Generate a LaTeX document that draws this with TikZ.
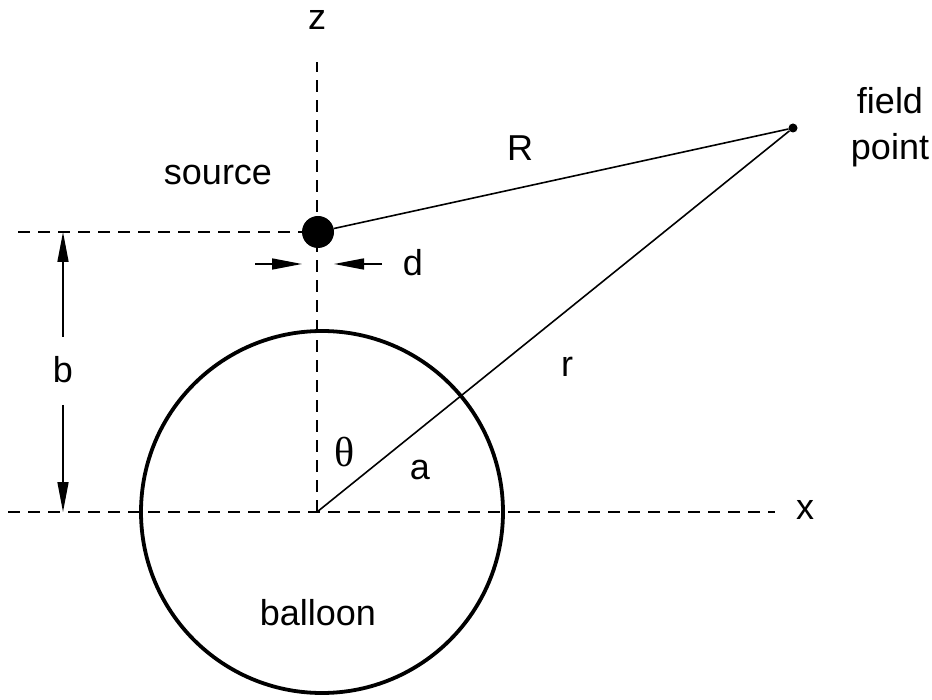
\documentclass[tikz,border=0pt]{standalone}
\usepackage{fontspec}
\setmainfont{Liberation Sans}
\newfontfamily\thetafont{Liberation Serif}
\usetikzlibrary{arrows.meta}
\begin{document}
\begin{tikzpicture}[x=1pt,y=-1pt,
  axis/.style={line width=1.6pt,dash pattern=on 12pt off 8pt},
  thinline/.style={line width=1.6pt},
  lbl/.style={font=\fontsize{36}{40}\selectfont,inner sep=0pt},
  tip/.style={-{Triangle[length=30pt,width=11pt]}},
]
\useasboundingbox (0,0) rectangle (932,700);
% axes
\coordinate (O) at (317,512);
\coordinate (zt) at (317,62);
\coordinate (xl) at (8,512);
\coordinate (xr) at (775,512);
\coordinate (ul) at (18,232);
\draw[axis] (O) -- (zt);
\draw[axis] (xl) -- (xr);
\draw[axis] (ul) -- (302,232);
% balloon
\node[circle,draw,line width=3.8pt,minimum size=362pt,inner sep=0pt] (balloon) at (322,512) {};
% source and field point
\node[circle,fill,inner sep=0pt,minimum size=32pt] (src) at (318,232) {};
\node[circle,fill,inner sep=0pt,minimum size=9pt] (fp) at (793,128) {};
\draw[thinline] (src) -- (fp);
\draw[thinline] (O) -- (fp);
% d arrows
\coordinate (dl0) at (255,264); \coordinate (dl1) at (302,264);
\coordinate (dr0) at (382,264); \coordinate (dr1) at (334,264);
\draw[thinline,tip] (dl0) -- (dl1);
\draw[thinline,tip] (dr0) -- (dr1);
% b arrow
\node[lbl] (b) at (63,370) {b};
\coordinate (bt) at (63,232); \coordinate (bb) at (63,512);
\draw[thinline,tip] (63,337) -- (bt);
\draw[thinline,tip] (63,405) -- (bb);
% labels
\node[lbl] (z) at (317,20) {z};
\node[lbl] (x) at (805,510) {x};
\node[lbl] (source) at (218,175) {source};
\node[lbl] (R) at (520,148) {R};
\node[lbl] (r) at (567,367) {r};
\node[lbl] (d) at (413,263) {d};
\node[lbl,font=\thetafont\fontsize{42}{46}\selectfont] (th) at (345,452) {θ};
\node[lbl] (a) at (420,470) {a};
\node[lbl] (ball) at (318,613) {balloon};
\node[lbl,align=center] (fpl) at (890,127) {field\\[6pt]point};
\end{tikzpicture}
\end{document}
